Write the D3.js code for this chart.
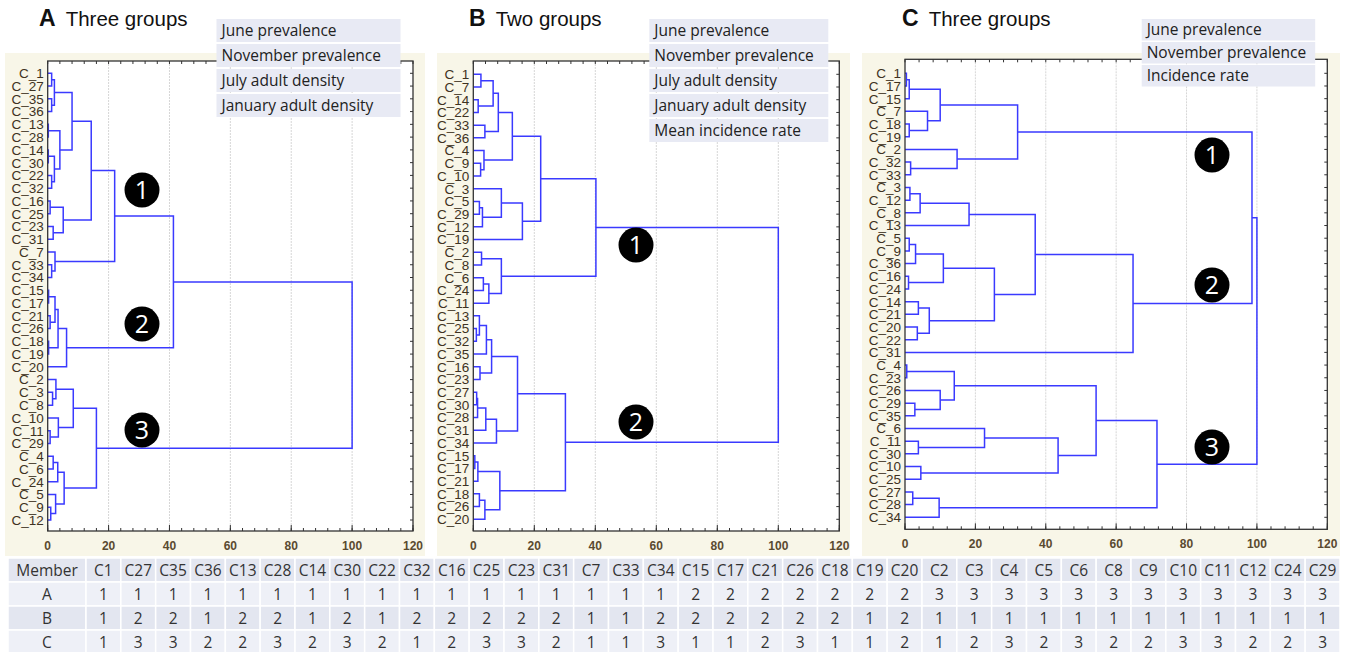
<!DOCTYPE html>
<html><head><meta charset="utf-8">
<script src="https://cdn.jsdelivr.net/npm/d3@7"></script>
<style>
html,body{margin:0;padding:0;background:#fff;}
svg{display:block;}
</style></head>
<body>
<svg id="chart" width="1346" height="652"></svg>
<script>
// ---------------- DATA ----------------
const leavesA = ["C_1","C_27","C_35","C_36","C_13","C_28","C_14","C_30","C_22","C_32","C_16","C_25","C_23","C_31","C_7","C_33","C_34","C_15","C_17","C_21","C_26","C_18","C_19","C_20","C_2","C_3","C_8","C_10","C_11","C_29","C_4","C_6","C_24","C_5","C_9","C_12"];
// merges: [childA, childB, linkage distance]; numbers refer to earlier merges
const mergesA = [
 ["C_1","C_27",1.3],["C_35","C_36",1.3],[0,1,2.2],["C_13","C_28",0.2],["C_14","C_30",0.2],
 ["C_22","C_32",1.3],[4,5,2.2],[3,6,4.0],[2,7,8.0],["C_16","C_25",0.8],
 ["C_23","C_31",1.8],[9,10,5.1],[8,11,14.3],["C_33","C_34",1.3],["C_7",13,2.4],
 [12,14,22.0],["C_15","C_17",0.3],["C_21","C_26",0.8],[16,17,2.4],["C_18","C_19",0.3],
 [18,19,3.4],[20,"C_20",6.2],[15,21,41.3],["C_3","C_8",1.6],["C_2",23,2.7],
 ["C_11","C_29",0.8],["C_10",25,3.5],[24,26,8.4],["C_4","C_6",1.8],[28,"C_24",3.3],
 ["C_9","C_12",1.0],["C_5",30,2.6],[29,31,5.4],[27,32,16.0],[22,33,100]
];
const leavesB = ["C_1","C_7","C_14","C_22","C_33","C_36","C_4","C_9","C_10","C_3","C_5","C_29","C_12","C_19","C_2","C_8","C_6","C_24","C_11","C_13","C_25","C_32","C_35","C_16","C_23","C_27","C_30","C_28","C_31","C_34","C_15","C_17","C_21","C_18","C_26","C_20"];
const mergesB = [
 ["C_1","C_7",2.5],["C_14","C_22",1.6],[0,1,6.5],["C_33","C_36",3.8],[2,3,8.2],
 ["C_9","C_10",2.4],["C_4",5,3.5],[4,6,12.8],["C_5","C_29",2.0],[8,"C_12",3.0],
 ["C_3",9,9.2],[10,"C_19",16.1],[7,11,22.1],["C_2","C_8",2.7],["C_6","C_24",3.3],
 [14,"C_11",5.1],[13,15,9.2],[12,16,40.2],["C_25","C_32",1.0],["C_13",18,2.0],
 [19,"C_35",4.3],["C_16","C_23",2.2],[20,21,6.0],["C_27","C_30",1.1],[23,"C_28",1.4],
 [24,"C_31",4.1],[25,"C_34",7.6],[22,26,14.5],["C_15","C_17",0.5],[28,"C_21",1.5],
 ["C_18","C_26",2.0],[30,"C_20",3.8],[29,31,8.7],[27,32,30.2],[17,33,100]
];
const leavesC = ["C_1","C_17","C_15","C_7","C_18","C_19","C_2","C_32","C_33","C_3","C_12","C_8","C_13","C_5","C_9","C_36","C_16","C_24","C_14","C_21","C_20","C_22","C_31","C_4","C_23","C_26","C_29","C_35","C_6","C_11","C_30","C_10","C_25","C_27","C_28","C_34"];
const mergesC = [
 ["C_1","C_17",0.4],[0,"C_15",1.2],["C_18","C_19",1.2],["C_7",2,6.4],[1,3,10.0],
 ["C_32","C_33",1.6],["C_2",5,14.8],[4,6,32.0],["C_3","C_12",1.4],[8,"C_8",4.3],
 [9,"C_13",18.2],["C_5","C_9",1.2],[11,"C_36",3.0],["C_16","C_24",1.0],[12,13,10.9],
 ["C_14","C_21",3.8],["C_20","C_22",3.5],[15,16,6.9],[14,17,25.4],[10,18,37.0],
 [19,"C_31",64.8],[7,20,98.6],["C_4","C_23",0.5],["C_29","C_35",2.8],["C_26",23,10.0],
 [22,24,14.0],["C_11","C_30",3.8],["C_6",26,22.6],["C_10","C_25",4.5],[27,28,43.5],
 [25,29,54.3],["C_27","C_28",2.2],[31,"C_34",9.7],[30,32,71.6],[21,33,100]
];
const legendA = ["June prevalence","November prevalence","July adult density","January adult density"];
const legendB = ["June prevalence","November prevalence","July adult density","January adult density","Mean incidence rate"];
const legendC = ["June prevalence","November prevalence","Incidence rate"];
const titles = [["A","Three groups"],["B","Two groups"],["C","Three groups"]];
const groupLabelsA = ["1","2","3"];
const groupLabelsB = ["1","2"];
const groupLabelsC = ["1","2","3"];
const xTicks = [0,20,40,60,80,100,120];

const tableMembers = ["C1","C27","C35","C36","C13","C28","C14","C30","C22","C32","C16","C25","C23","C31","C7","C33","C34","C15","C17","C21","C26","C18","C19","C20","C2","C3","C4","C5","C6","C8","C9","C10","C11","C12","C24","C29"];
const tableA = [1,1,1,1,1,1,1,1,1,1,1,1,1,1,1,1,1,2,2,2,2,2,2,2,3,3,3,3,3,3,3,3,3,3,3,3];
const tableB = [1,2,2,1,2,2,1,2,1,2,2,2,2,2,1,1,2,2,2,2,2,2,1,2,1,1,1,1,1,1,1,1,1,1,1,1];
const tableC = [1,3,3,2,2,3,2,3,2,1,2,3,3,2,1,1,3,1,1,2,3,1,1,2,1,2,3,2,3,2,2,3,3,2,2,3];

// ---------------- LAYOUT ----------------
const svg = d3.select("#chart");
const panels = [
 {leaves:leavesA, merges:mergesA, legend:legendA, title:titles[0], badges:groupLabelsA,
  bg:[5,53,420,503], x0:47.7, x1:413, top:61, bottom:531, ly0:73.3, ly1:520,
  legX:216.5, legW:184, legY:19, legH:23, legStep:25,
  titleX:39, badgePos:[[142,190],[142,324],[142,430]]},
 {leaves:leavesB, merges:mergesB, legend:legendB, title:titles[1], badges:groupLabelsB,
  bg:[437,53,413,503], x0:473.3, x1:839.3, top:61, bottom:531, ly0:74.3, ly1:519.3,
  legX:649.3, legW:179, legY:19, legH:23, legStep:25,
  titleX:469, badgePos:[[636,245],[636,422]]},
 {leaves:leavesC, merges:mergesC, legend:legendC, title:titles[2], badges:groupLabelsC,
  bg:[862,53,478,503], x0:905, x1:1327.3, top:59.3, bottom:529.3, ly0:73.3, ly1:517.3,
  legX:1141.7, legW:173.5, legY:19, legH:21.5, legStep:23,
  titleX:902, badgePos:[[1212,155],[1212,285],[1212,447]]}
];

const blue = "#3a3aff";
const labelFont = "'Liberation Sans', Arial, sans-serif";
const bodyFont = "'Open Sans', 'Noto Sans', sans-serif";

panels.forEach(p => {
  const g = svg.append("g");
  g.append("rect").attr("x",p.bg[0]).attr("y",p.bg[1]).attr("width",p.bg[2]).attr("height",p.bg[3])
    .attr("fill","#f8f6e8");
  const x = d3.scaleLinear().domain([0,120]).range([p.x0,p.x1]);
  const y = d3.scalePoint().domain(p.leaves).range([p.ly0,p.ly1]);
  g.append("rect").attr("x",p.x0).attr("y",p.top).attr("width",p.x1-p.x0).attr("height",p.bottom-p.top)
    .attr("fill","#fff");
  g.selectAll(".grid").data(xTicks.filter(t=>t>0 && t<120)).join("line")
    .attr("x1",d=>x(d)).attr("x2",d=>x(d)).attr("y1",p.top).attr("y2",p.bottom)
    .attr("stroke","#d6d6d6").attr("stroke-width",1).attr("stroke-dasharray","2,1");
  // dendrogram
  const nodes = [];
  const pos = ref => typeof ref === "number" ? nodes[ref] : {h:0, y:y(ref)};
  const linkG = g.append("g").attr("fill","none").attr("stroke",blue).attr("stroke-width",1.5);
  p.merges.forEach(m => {
    const a = pos(m[0]), b = pos(m[1]), h = m[2];
    const path = d3.path();
    path.moveTo(x(a.h), a.y); path.lineTo(x(h), a.y); path.lineTo(x(h), b.y); path.lineTo(x(b.h), b.y);
    linkG.append("path").attr("d", path.toString());
    nodes.push({h:h, y:(a.y+b.y)/2});
  });
  g.append("rect").attr("x",p.x0).attr("y",p.top).attr("width",p.x1-p.x0).attr("height",p.bottom-p.top)
    .attr("fill","none").attr("stroke","#333").attr("stroke-width",1.3);
  const minor = d3.range(0,121,4);
  g.selectAll(".tb").data(minor).join("line")
    .attr("x1",d=>x(d)).attr("x2",d=>x(d)).attr("y1",p.bottom).attr("y2",p.bottom-3)
    .attr("stroke","#333");
  g.selectAll(".tt").data(minor).join("line")
    .attr("x1",d=>x(d)).attr("x2",d=>x(d)).attr("y1",p.top).attr("y2",p.top+3)
    .attr("stroke","#333");
  g.selectAll(".tbm").data(xTicks).join("line")
    .attr("x1",d=>x(d)).attr("x2",d=>x(d)).attr("y1",p.bottom).attr("y2",p.bottom-6)
    .attr("stroke","#333");
  g.selectAll(".tr").data(p.leaves).join("line")
    .attr("x1",p.x1).attr("x2",p.x1-3).attr("y1",d=>y(d)).attr("y2",d=>y(d))
    .attr("stroke","#333");
  g.selectAll(".xl").data(xTicks).join("text")
    .attr("x",d=>x(d)).attr("y",p.bottom+19).attr("text-anchor","middle")
    .attr("font-family",labelFont).attr("font-size",12).attr("font-weight","bold").attr("fill","#5a4a30").text(d=>d);
  g.selectAll(".ll").data(p.leaves).join("text")
    .attr("x",p.x0-4).attr("y",d=>y(d)).attr("dy","0.36em").attr("text-anchor","end")
    .attr("font-family",labelFont).attr("font-size",13.5).attr("fill","#3e3222").text(d=>d);
  const t = g.append("text").attr("x",p.titleX).attr("y",26).attr("font-family",labelFont);
  t.append("tspan").attr("font-weight","bold").attr("font-size",23).attr("fill","#111").text(p.title[0]);
  t.append("tspan").attr("dx",10).attr("font-size",20.5).attr("fill","#111").text(p.title[1]);
  p.legend.forEach((s,i) => {
    g.append("rect").attr("x",p.legX).attr("y",p.legY+i*p.legStep).attr("width",p.legW).attr("height",p.legH)
      .attr("fill","#e8eaf4");
    g.append("text").attr("x",p.legX+5).attr("y",p.legY+i*p.legStep+p.legH/2).attr("dy","0.36em")
      .attr("font-family",bodyFont).attr("font-size",15.5).attr("fill","#222").text(s);
  });
  p.badges.forEach((s,i) => {
    const [bx,by] = p.badgePos[i];
    g.append("circle").attr("cx",bx).attr("cy",by).attr("r",17.5).attr("fill","#000");
    g.append("text").attr("x",bx).attr("y",by).attr("dy","0.36em").attr("text-anchor","middle")
      .attr("font-family",bodyFont).attr("font-size",25).attr("fill","#fff").text(s);
  });
});

// ---------------- TABLE ----------------
const rows = [["Member", ...tableMembers],["A", ...tableA],["B", ...tableB],["C", ...tableC]];
const firstW = 78, tx0 = 8, rowY0 = 558, rowH = 24;
const cx = d3.scaleBand().domain(d3.range(tableMembers.length)).range([tx0+firstW, 1340]);
const rowFill = ["#e3e6f0","#eef0f7","#e3e6f0","#eef0f7"];
const tg = svg.append("g");
rows.forEach((r,ri) => {
  const yTop = rowY0 + ri*rowH;
  r.forEach((v,ci) => {
    const xl = ci===0 ? tx0 : cx(ci-1);
    const w = ci===0 ? firstW : cx.bandwidth();
    tg.append("rect").attr("x",xl).attr("y",yTop).attr("width",w).attr("height",rowH)
      .attr("fill",rowFill[ri]).attr("stroke","#fff").attr("stroke-width",1.5);
    tg.append("text").attr("x",xl+w/2).attr("y",yTop+rowH/2).attr("dy","0.36em").attr("text-anchor","middle")
      .attr("font-family",bodyFont).attr("font-size",15.5).attr("fill","#333").text(v);
  });
});
</script>
</body></html>
